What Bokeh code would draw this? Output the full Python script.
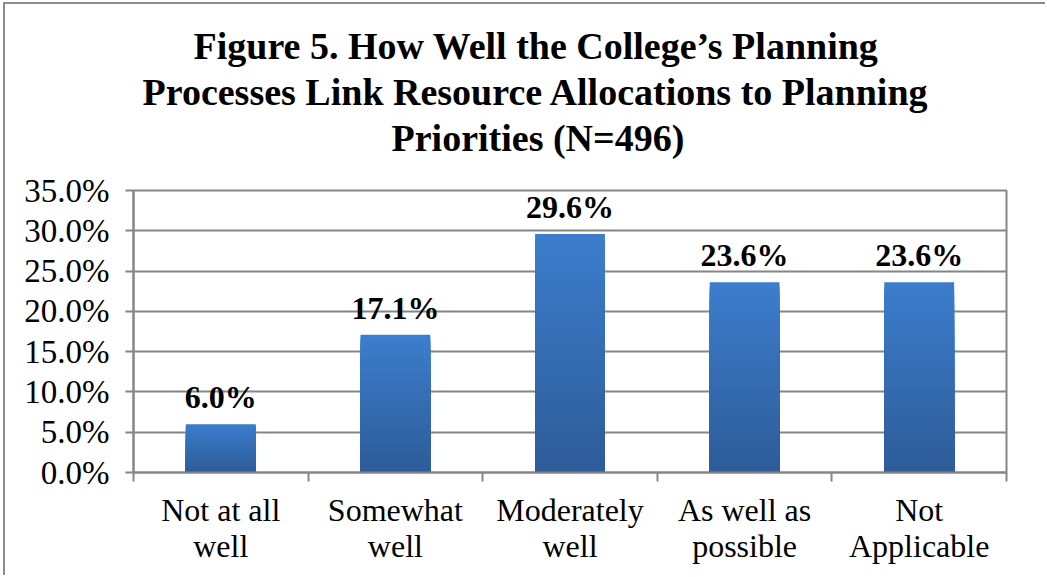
import numpy as np
from bokeh.plotting import figure
from bokeh.models import ColumnDataSource, FixedTicker, NumeralTickFormatter, Title, Range1d
from bokeh.core.properties import value
from bokeh.embed import file_html
from bokeh.resources import INLINE

# ---- data ----
categories = ["Not at all\nwell", "Somewhat\nwell", "Moderately\nwell",
              "As well as\npossible", "Not\nApplicable"]
values = [0.060, 0.171, 0.296, 0.236, 0.236]
value_labels = ["6.0%", "17.1%", "29.6%", "23.6%", "23.6%"]
y_ticks = [0.0, 0.05, 0.10, 0.15, 0.20, 0.25, 0.30, 0.35]
title_lines = ["Figure 5.  How Well the College\u2019s Planning",
               "Processes Link  Resource Allocations to Planning",
               "Priorities  (N=496)"]
title_offsets = [60, 9, 258]   # horizontal layout offsets of the title lines (px)
title_pad_bottom = [0, 0, 31]  # gap below each title line (px)

SERIF = "Liberation Serif"
GRAY = "#868686"
TOP_C = np.array([0x3c, 0x7d, 0xcd])
BOT_C = np.array([0x2d, 0x5b, 0x97])

p = figure(width=1042, height=573, output_backend="svg", toolbar_location=None,
           x_range=Range1d(-0.5, len(categories) - 0.5), y_range=Range1d(0, 0.35),
           title_location=None,
           min_border_left=128, min_border_right=41, min_border_bottom=105,
           min_border_top=186)
p.styles = {"border-left": "2px solid #8c8c8c", "border-top": "2px solid #8c8c8c",
            "margin-left": "3px", "margin-top": "2px"}

# title lines: nearest to the plot added first
for line, off, pb in reversed(list(zip(title_lines, title_offsets, title_pad_bottom))):
    t = Title(text=line, align="left", offset=off, vertical_align="bottom",
              text_font=SERIF, text_font_style="bold", text_font_size="38px",
              text_color="black", standoff=2)
    try:
        t.padding = dict(left=0, right=0, top=0, bottom=pb)
    except Exception:
        pass
    p.add_layout(t, "above")

# gradient bars: layered vbars built from the data values
N = 40
xs, tops, cols = [], [], []
for i, v in enumerate(values):
    for k in range(N):
        frac = (N - k) / N
        c = BOT_C + (TOP_C - BOT_C) * frac
        xs.append(i)
        tops.append(v * frac)
        cols.append("#%02x%02x%02x" % tuple(int(round(a)) for a in c))
src = ColumnDataSource(dict(x=xs, top=tops, color=cols))
p.vbar(x="x", top="top", bottom=0, width=0.40, fill_color="color", line_color=None, source=src)

lab = ColumnDataSource(dict(x=list(range(len(values))), y=values, text=value_labels))
p.text(x="x", y="y", text="text", source=lab, text_align="center", text_baseline="alphabetic",
       y_offset=-27, text_font=value(SERIF), text_font_style="bold", text_font_size="32px",
       text_color="black")

p.xgrid.grid_line_color = None
p.ygrid.grid_line_color = GRAY
p.ygrid.grid_line_width = 2
p.ygrid.ticker = FixedTicker(ticks=y_ticks)
p.outline_line_color = GRAY
p.outline_line_width = 2

ya = p.yaxis[0]
ya.ticker = FixedTicker(ticks=y_ticks)
ya.formatter = NumeralTickFormatter(format="0.0%")
ya.axis_line_color = GRAY
ya.axis_line_width = 2
ya.major_tick_line_color = GRAY
ya.major_tick_line_width = 2
ya.major_tick_out = 8
ya.major_tick_in = 0
ya.minor_tick_line_color = None
ya.major_label_text_font = SERIF
ya.major_label_text_font_size = "33px"
ya.major_label_text_color = "black"
ya.major_label_standoff = 16

xa = p.xaxis[0]
xa.ticker = FixedTicker(ticks=list(range(len(categories))),
                        minor_ticks=[i - 0.5 for i in range(len(categories) + 1)])
xa.major_label_overrides = {i: c for i, c in enumerate(categories)}
xa.axis_line_color = GRAY
xa.axis_line_width = 2
xa.major_tick_line_color = None
xa.major_tick_out = 0
xa.minor_tick_line_color = GRAY
xa.minor_tick_line_width = 2
xa.minor_tick_out = 9
xa.minor_tick_in = 0
xa.major_label_text_font = SERIF
xa.major_label_text_font_size = "32px"
xa.major_label_text_line_height = 1.0
xa.major_label_text_color = "black"
xa.major_label_standoff = 10

open("out.html", "w").write(file_html(p, INLINE))
